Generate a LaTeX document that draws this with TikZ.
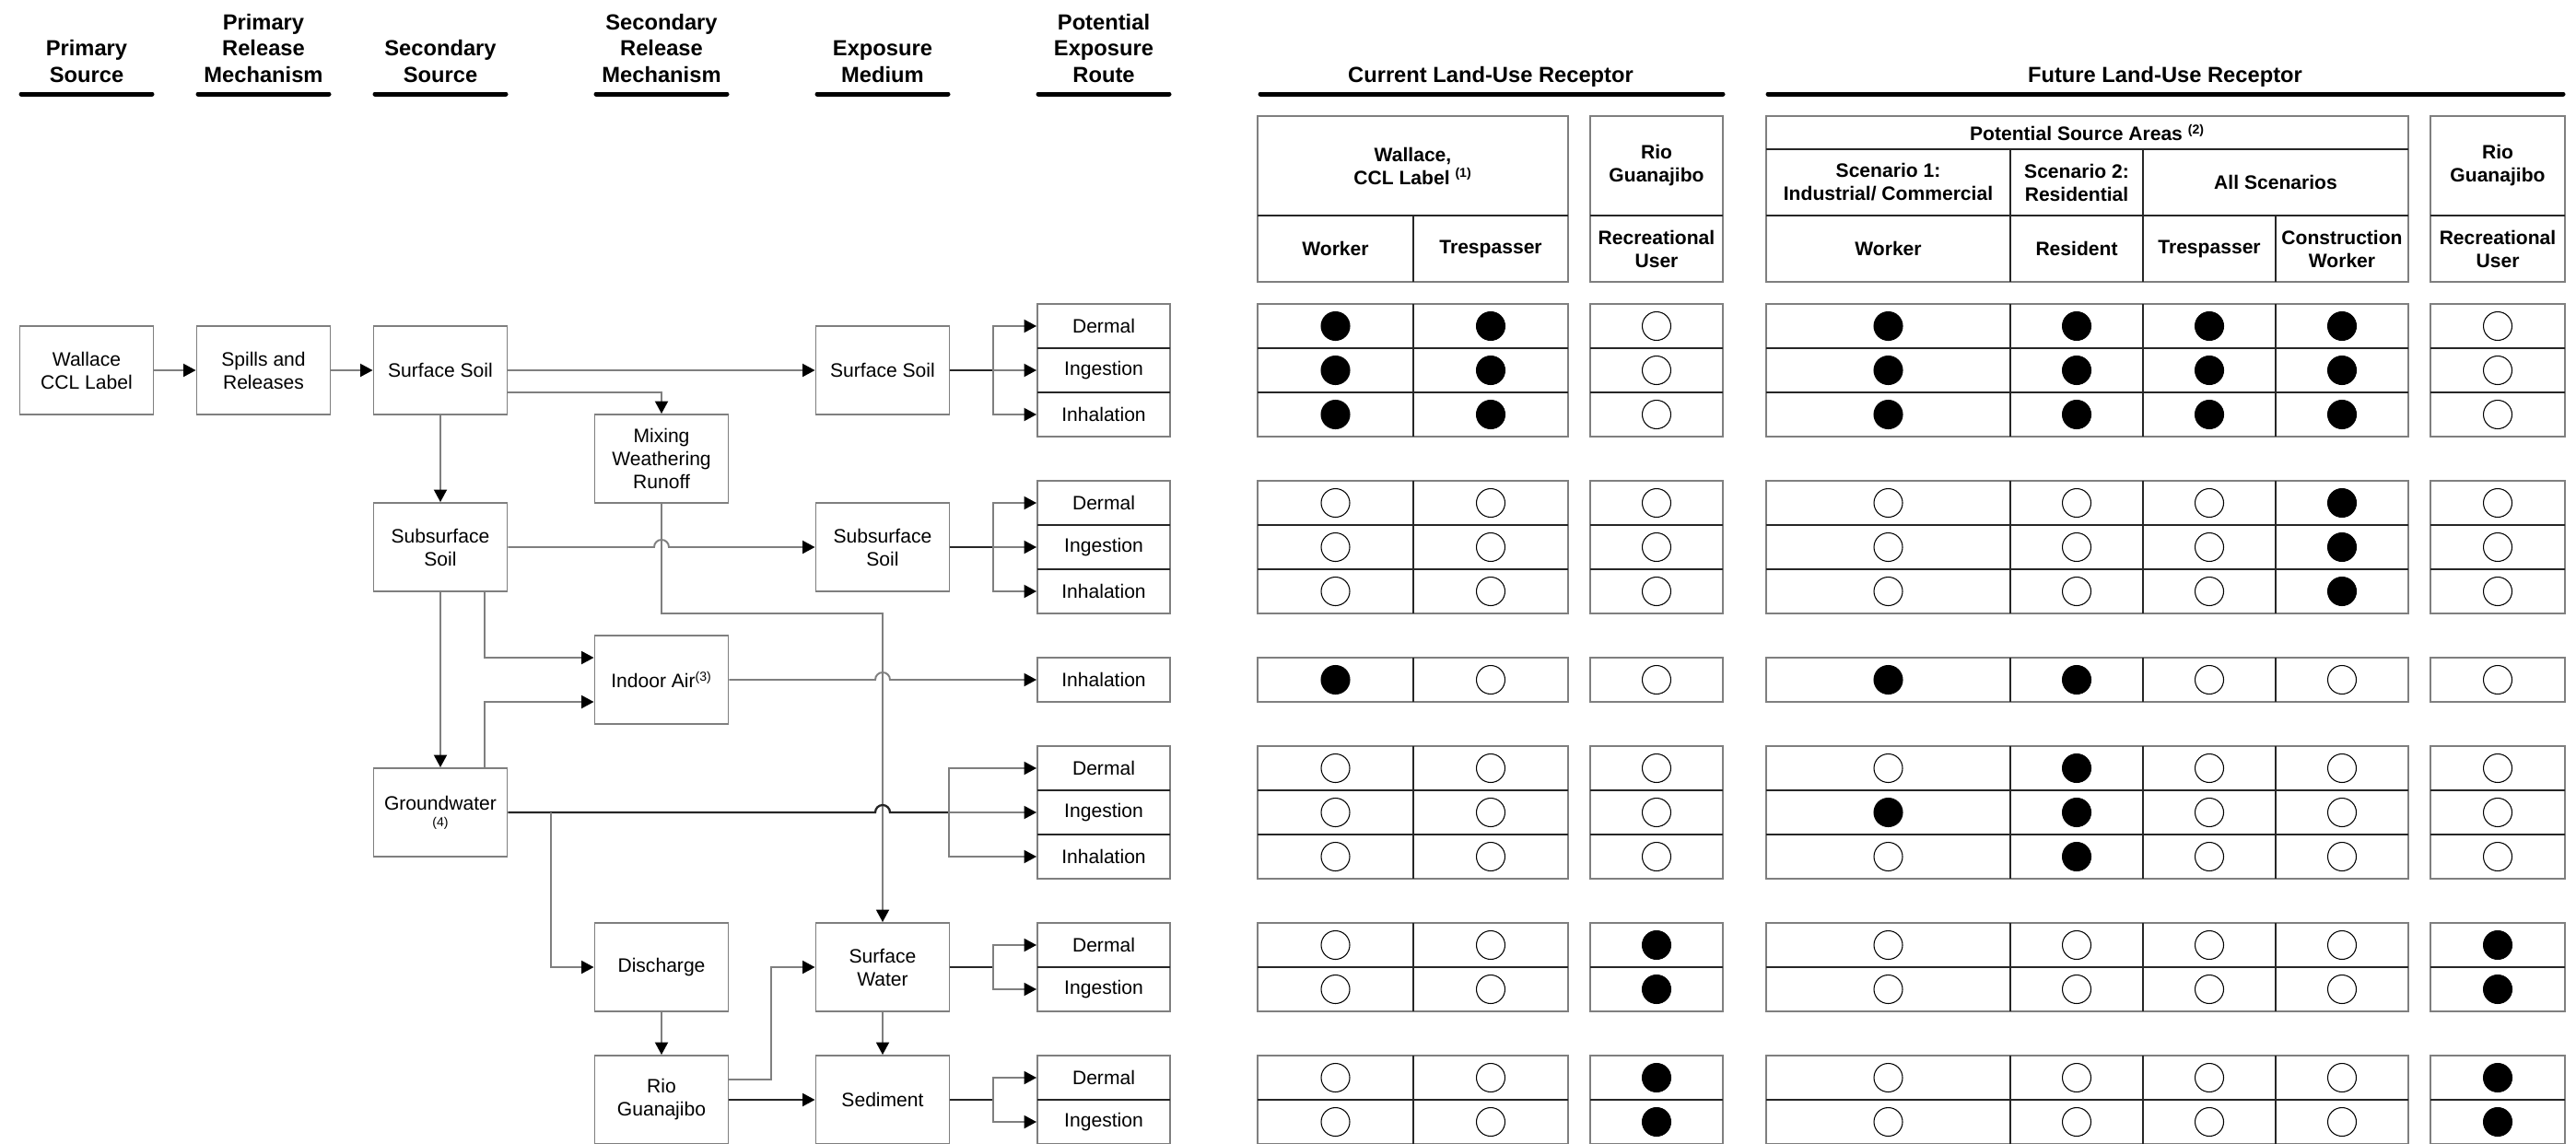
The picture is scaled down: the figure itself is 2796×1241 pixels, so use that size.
\documentclass[tikz,border=0pt]{standalone}
\usepackage{fontspec}
\setmainfont{Liberation Sans}
\usetikzlibrary{arrows.meta}
\definecolor{linegray}{HTML}{7F7F7F}
\definecolor{darkline}{HTML}{262626}
\begin{document}
\begin{tikzpicture}[x=0.02cm,y=-0.02cm,
	box/.style={draw=linegray,line width=1.1pt,minimum width=2.9cm,minimum height=1.92cm,inner sep=0pt,align=center,font=\fontsize{12}{14.2}\selectfont},
	route/.style={box,minimum width=2.88cm,minimum height=0.96cm},
	flow/.style={draw=linegray,line width=1.1pt,-{Triangle[length=0.27cm,width=0.28cm,color=black]}},
	main/.style={draw=darkline,line width=1.3pt},
	hdr/.style={font=\bfseries\fontsize{13.5}{16.3}\selectfont,align=center,inner sep=0pt},
	headrule/.style={line width=0.1cm,line cap=round},
	cell/.style={font=\bfseries\fontsize{12}{14.2}\selectfont,align=center,inner sep=0pt},
	cellframe/.style={draw=linegray,line width=1.1pt},
	divider/.style={draw=darkline,line width=0.8pt},
	dot/.style={circle,draw,line width=0.6pt,minimum size=0.62cm,inner sep=0pt}]
		\useasboundingbox (0,0) rectangle (2796,1241);
		\foreach \cx/\txt [count=\i] in {94/{Primary\\Source},286/{Primary\\Release\\Mechanism},478/{Secondary\\Source},718/{Secondary\\Release\\Mechanism},958/{Exposure\\Medium},1198/{Potential\\Exposure\\Route}} {
			\node[hdr,anchor=south] (h\i) at (\cx,90) {\txt};
			\draw[headrule] (\cx-71,102) -- (\cx+71,102);
		}
		\node[hdr,anchor=base] (curhd) at (1618,89) {Current Land-Use Receptor};
		\draw[headrule] (1368,102) -- (1870,102);
		\node[hdr,anchor=base] (futhd) at (2350,89) {Future Land-Use Receptor};
		\draw[headrule] (1919,102) -- (2782,102);

		\node[box] (wallace) at (94,402) {Wallace\\CCL Label};
		\node[box] (spills) at (286,402) {Spills and\\Releases};
		\node[box] (ssoil) at (478,402) {Surface Soil};
		\node[box] (mixing) at (718,498) {Mixing\\Weathering\\Runoff};
		\node[box] (subsoil) at (478,594) {Subsurface\\Soil};
		\node[box] (indoor) at (718,738) {Indoor Air\textsuperscript{(3)}};
		\node[box] (gwater) at (478,882) {Groundwater\\[-4pt]{\fontsize{8}{9}\selectfont(4)}};
		\node[box] (discharge) at (718,1050) {Discharge};
		\node[box] (rio) at (718,1194) {Rio\\Guanajibo};
		\node[box] (mssoil) at (958,402) {Surface Soil};
		\node[box] (msub) at (958,594) {Subsurface\\Soil};
		\node[box] (mwater) at (958,1050) {Surface\\Water};
		\node[box] (msed) at (958,1194) {Sediment};
		\foreach \nm/\r/\txt in {r1a/0/Dermal,r1b/1/Ingestion,r1c/2/Inhalation,r2a/4/Dermal,r2b/5/Ingestion,r2c/6/Inhalation,r3a/8/Inhalation,r4a/10/Dermal,r4b/11/Ingestion,r4c/12/Inhalation,r5a/14/Dermal,r5b/15/Ingestion,r6a/17/Dermal,r6b/18/Ingestion}
			\node[route] (\nm) at (1198,354+48*\r) {\txt};

		\coordinate (b1) at (1078,402);
		\coordinate (b2) at (1078,594);
		\coordinate (gbr) at (1030,882);
		\coordinate (gdis) at (598,882);
		\coordinate (b5) at (1078,1050);
		\coordinate (b6) at (1078,1194);
		\draw[flow] (wallace) -- (spills);
		\draw[flow] (spills) -- (ssoil);
		\draw[flow] (ssoil) -- (mssoil);
		\draw[flow] ([yshift=-0.48cm]ssoil.east) -| (mixing);
		\draw[flow] (ssoil) -- (subsoil);
		\draw[flow] (subsoil) -- (710,594) arc[start angle=180,end angle=360,radius=8] -- (msub);
		\draw[flow] (mixing) -- (718,666) -- (958,666) -- (mwater);
		\draw[flow] ([xshift=0.96cm]subsoil.south) |- ([yshift=0.48cm]indoor.west);
		\draw[flow] (subsoil) -- (gwater);
		\draw[flow] ([xshift=0.96cm]gwater.north) |- ([yshift=-0.48cm]indoor.west);
		\draw[flow] (indoor) -- (950,738) arc[start angle=180,end angle=360,radius=8] -- (r3a);
		\draw[main] (gwater) -- (950,882) arc[start angle=180,end angle=360,radius=8] -- (gbr);
		\draw[flow] (gbr) |- (r4a);
		\draw[flow] (gbr) -- (r4b);
		\draw[flow] (gbr) |- (r4c);
		\draw[flow] (gdis) |- (discharge);
		\draw[flow] (discharge) -- (rio);
		\draw[flow] ([yshift=0.44cm]rio.east) -| (837,1050) -- (mwater);
		\draw[flow,draw=darkline] (rio) -- (msed);
		\draw[flow] (mwater) -- (msed);
		\draw[main] (mssoil) -- (b1);
		\draw[flow] (b1) |- (r1a);
		\draw[flow] (b1) -- (r1b);
		\draw[flow] (b1) |- (r1c);
		\draw[main] (msub) -- (b2);
		\draw[flow] (b2) |- (r2a);
		\draw[flow] (b2) -- (r2b);
		\draw[flow] (b2) |- (r2c);
		\draw[main] (mwater) -- (b5);
		\draw[flow] (b5) |- (r5a);
		\draw[flow] (b5) |- (r5b);
		\draw[main] (msed) -- (b6);
		\draw[flow] (b6) |- (r6a);
		\draw[flow] (b6) |- (r6b);

		\draw[cellframe] (1365,126) rectangle (1702,306);
		\draw[cellframe] (1726,126) rectangle (1870,306);
		\draw[cellframe] (1917,126) rectangle (2614,306);
		\draw[cellframe] (2638,126) rectangle (2784,306);
		\draw[divider] (1365,234) -- (1702,234) (1534,234) -- (1534,306) (1726,234) -- (1870,234);
		\draw[divider] (1917,162) -- (2614,162) (1917,234) -- (2614,234) (2182,162) -- (2182,306) (2326,162) -- (2326,306) (2470,234) -- (2470,306) (2638,234) -- (2784,234);
		\node[cell] (cwall) at (1533.5,180) {Wallace,\\CCL Label \textsuperscript{(1)}};
		\node[cell] (cwork) at (1449.5,270) {Worker};
		\node[cell] (ctres) at (1618,270) {Trespasser};
		\node[cell] (crio) at (1798,180) {Rio\\Guanajibo};
		\node[cell] (crec) at (1798,270) {Recreational\\User};
		\node[cell] (fpsa) at (2265.5,144) {Potential Source Areas \textsuperscript{(2)}};
		\node[cell] (fsc1) at (2049.5,198) {Scenario 1:\\Industrial/ Commercial};
		\node[cell] (fsc2) at (2254,198) {Scenario 2:\\Residential};
		\node[cell] (fall) at (2470,198) {All Scenarios};
		\node[cell] (fwork) at (2049.5,270) {Worker};
		\node[cell] (fres) at (2254,270) {Resident};
		\node[cell] (ftres) at (2398,270) {Trespasser};
		\node[cell] (fcon) at (2542,270) {Construction\\Worker};
		\node[cell] (frio) at (2711,180) {Rio\\Guanajibo};
		\node[cell] (frec) at (2711,270) {Recreational\\User};

		\foreach \top/\n in {330/3,522/3,714/1,810/3,1002/2,1146/2} {
			\foreach \xa/\xb in {1365/1702,1726/1870,1917/2614,2638/2784}
				\draw[cellframe] (\xa,\top) rectangle (\xb,\top+48*\n);
			\foreach \xd in {1534,2182,2326,2470}
				\draw[divider] (\xd,\top) -- (\xd,\top+48*\n);
			\ifnum\n>1
				\foreach \k in {2,...,\n}
					\foreach \xa/\xb in {1126/1270,1365/1702,1726/1870,1917/2614,2638/2784}
						\draw[divider] (\xa,\top+48*\k-48) -- (\xb,\top+48*\k-48);
			\fi
		}
		\foreach \r/\vals in {0/{1,1,0,1,1,1,1,0},1/{1,1,0,1,1,1,1,0},2/{1,1,0,1,1,1,1,0},4/{0,0,0,0,0,0,1,0},5/{0,0,0,0,0,0,1,0},6/{0,0,0,0,0,0,1,0},8/{1,0,0,1,1,0,0,0},10/{0,0,0,0,1,0,0,0},11/{0,0,0,1,1,0,0,0},12/{0,0,0,0,1,0,0,0},14/{0,0,1,0,0,0,0,1},15/{0,0,1,0,0,0,0,1},17/{0,0,1,0,0,0,0,1},18/{0,0,1,0,0,0,0,1}}
			\foreach \v [count=\i from 0] in \vals {
				\pgfmathsetmacro{\cx}{{1449.5,1618,1798,2049.5,2254,2398,2542,2711}[\i]}
				\ifnum\v=1 \def\dotfill{black}\else\def\dotfill{white}\fi
				\node[dot,fill=\dotfill] (d\r-\i) at (\cx,354+48*\r) {};
			}
	\end{tikzpicture}
\end{document}
